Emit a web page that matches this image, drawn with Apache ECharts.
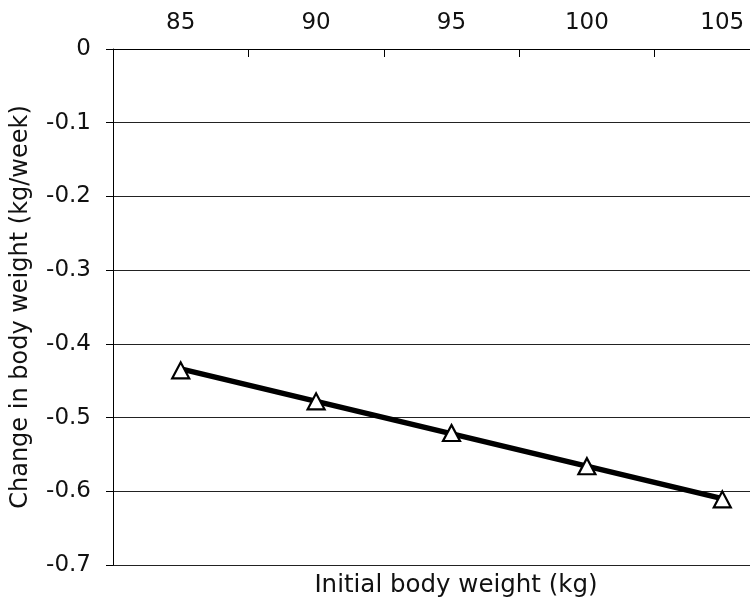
<!DOCTYPE html>
<html>
<head>
<meta charset="utf-8">
<script src="https://cdn.jsdelivr.net/npm/echarts@6/dist/echarts.min.js"></script>
<style>
html,body{margin:0;padding:0;background:#fff;}
#chart{width:750px;height:604px;}
</style>
</head>
<body>
<div id="chart"></div>
<script>
const categories = ['85', '90', '95', '100', '105'];
const observed = [-0.436, -0.478, -0.521, -0.566, -0.611];
const trendline = [-0.434, null, null, null, -0.610];
const yTicks = { min: -0.7, max: 0, interval: 0.1 };
const xTitle = 'Initial body weight (kg)';
const yTitle = 'Change in body weight (kg/week)';

const FONT = 'DejaVu Sans';
const chart = echarts.init(document.getElementById('chart'), null, { renderer: 'canvas' });
chart.setOption({
  animation: false,
  backgroundColor: '#fff',
  title: {
    text: xTitle,
    left: 451,
    top: 568,
    textAlign: 'center',
    textStyle: { fontFamily: FONT, fontSize: 24.5, fontWeight: 'normal', color: '#111' }
  },
  grid: { left: 113, top: 49, width: 677, height: 516, containLabel: false, outerBoundsMode: 'none' },
  xAxis: {
    type: 'category',
    position: 'top',
    data: categories,
    boundaryGap: true,
    axisLine: { show: true, lineStyle: { color: '#000', width: 1 } },
    axisTick: { show: true, inside: true, length: 8, lineStyle: { color: '#000' } },
    axisLabel: { fontFamily: FONT, fontSize: 23, color: '#111', margin: 14 },
    splitLine: { show: false }
  },
  yAxis: {
    type: 'value',
    min: yTicks.min,
    max: yTicks.max,
    interval: yTicks.interval,
    name: yTitle,
    nameLocation: 'middle',
    nameRotate: 90,
    nameGap: 80,
    nameTextStyle: { fontFamily: FONT, fontSize: 24, color: '#111' },
    axisLine: { show: true, lineStyle: { color: '#000', width: 1 } },
    axisTick: { show: true, inside: false, length: 7, lineStyle: { color: '#000' } },
    axisLabel: { fontFamily: FONT, fontSize: 23, color: '#111', margin: 22,
      formatter: v => (Math.round(v * 10) / 10).toString() },
    splitLine: { show: true, lineStyle: { color: '#222', width: 1 } }
  },
  series: [
    {
      type: 'line',
      data: trendline,
      connectNulls: true,
      symbol: 'none',
      lineStyle: { color: '#000', width: 5.5 },
      z: 2
    },
    {
      type: 'line',
      data: observed,
      symbol: 'triangle',
      symbolSize: [17, 16],
      lineStyle: { opacity: 0 },
      itemStyle: { color: '#fff', borderColor: '#000', borderWidth: 2.2, opacity: 1 },
      z: 3
    }
  ]
});
</script>
</body>
</html>
